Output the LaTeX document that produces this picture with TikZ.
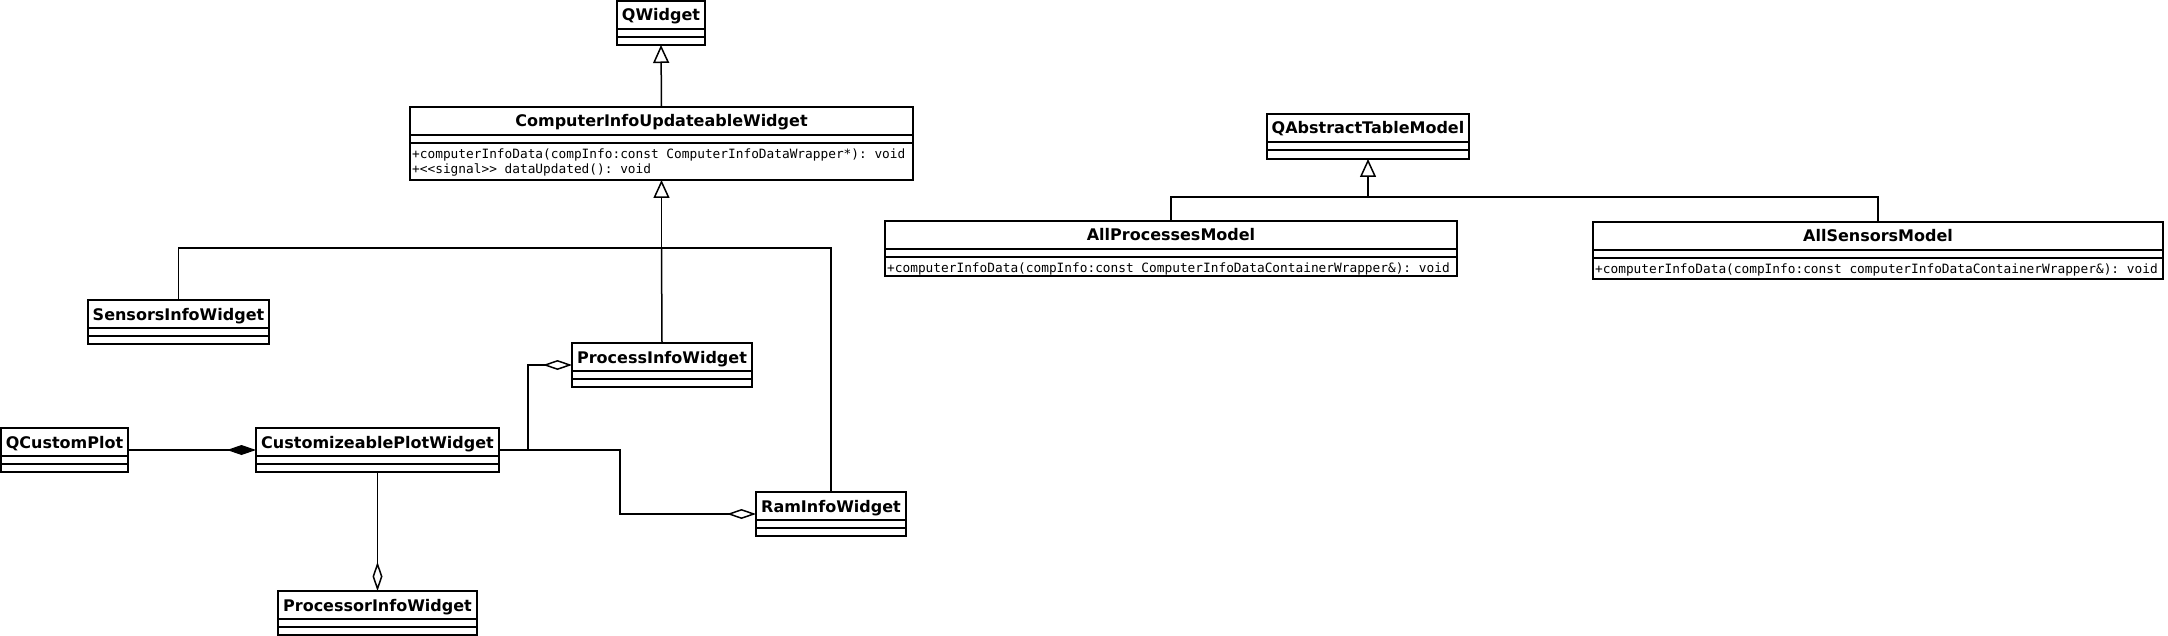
\documentclass[tikz,border=0pt]{standalone}
\usepackage{fontspec}
\setmainfont{DejaVu Sans}
\setmonofont{DejaVu Sans Mono}
\usepackage{tikz}
\usetikzlibrary{arrows.meta}
\tikzstyle{classbox} = [draw, line width=2pt, inner sep=0pt, outer sep=0pt]
\tikzstyle{classname} = [font=\fontsize{16}{19}\selectfont\bfseries, inner sep=0pt, anchor=base]
\tikzstyle{methods} = [font=\fontsize{12.8}{15}\selectfont\ttfamily, inner xsep=2pt, inner ysep=5.5pt, align=left, anchor=north west]
\tikzstyle{conn} = [line width=1.5pt]
\tikzstyle{inherit} = [conn, -{Triangle[open, length=18pt, width=16pt]}]
\tikzstyle{aggr} = [conn, -{Diamond[open, length=29pt, width=10pt]}]
\tikzstyle{comp} = [conn, -{Diamond[length=29pt, width=10pt]}]
\newcommand{\umlclass}[6]{%
  \node[classbox, minimum width=#3pt, minimum height=#4pt, anchor=north] (#1) at (#2) {};
  \node[classname] (#1-title) at ([yshift=-20pt]#1.north) {#5};
  \draw[line width=2pt] ([yshift=-28pt]#1.north west) -- ([yshift=-28pt]#1.north east)
    ([yshift=-36pt]#1.north west) -- ([yshift=-36pt]#1.north east);
  \node[methods] (#1-ops) at ([yshift=-36pt]#1.north west) {#6};
}

\begin{document}
\begin{tikzpicture}[x=1pt, y=-1pt]
    \useasboundingbox (0,0) rectangle (2168,636);
    \umlclass{qwidget}{661,1}{88}{44}{QWidget}{}
    \umlclass{ciuw}{661.5,107}{503}{73}{ComputerInfoUpdateableWidget}{+computerInfoData(compInfo:const ComputerInfoDataWrapper*): void\\+<<signal>> dataUpdated(): void}
    \umlclass{qatm}{1368,114}{202}{45}{QAbstractTableModel}{}
    \umlclass{allproc}{1171,221}{572}{55}{AllProcessesModel}{+computerInfoData(compInfo:const ComputerInfoDataContainerWrapper\&): void}
    \umlclass{allsens}{1878,222}{570}{57}{AllSensorsModel}{+computerInfoData(compInfo:const computerInfoDataContainerWrapper\&): void}
    \umlclass{sensors}{178.5,300}{181}{44}{SensorsInfoWidget}{}
    \umlclass{procinfo}{662,343}{180}{44}{ProcessInfoWidget}{}
    \umlclass{qcustom}{64.5,428}{127}{44}{QCustomPlot}{}
    \umlclass{cpw}{377.5,428}{243}{44}{CustomizeablePlotWidget}{}
    \umlclass{ram}{831,492}{150}{44}{RamInfoWidget}{}
    \umlclass{processor}{377.5,591}{199}{44}{ProcessorInfoWidget}{}
    \coordinate (gen1) at (661.5,248);
    \coordinate (gen2) at (1368,197);
    \draw[inherit] (ciuw.north) -- (qwidget.south);
    \draw[inherit] (sensors.north) |- (gen1) -- (ciuw.south);
    \draw[conn] (procinfo.north) -- (gen1);
    \draw[conn] (ram.north) |- (gen1);
    \draw[inherit] (allproc.north) |- (gen2) -- (qatm.south);
    \draw[conn] (allsens.north) |- (gen2);
    \draw[comp] (qcustom.east) -- (cpw.west);
    \draw[aggr] (cpw.east) -- ++(29,0) |- (procinfo.west);
    \draw[aggr] (cpw.east) -- ++(121,0) |- (ram.west);
    \draw[aggr] (cpw.south) -- (processor.north);
\end{tikzpicture}
\end{document}
